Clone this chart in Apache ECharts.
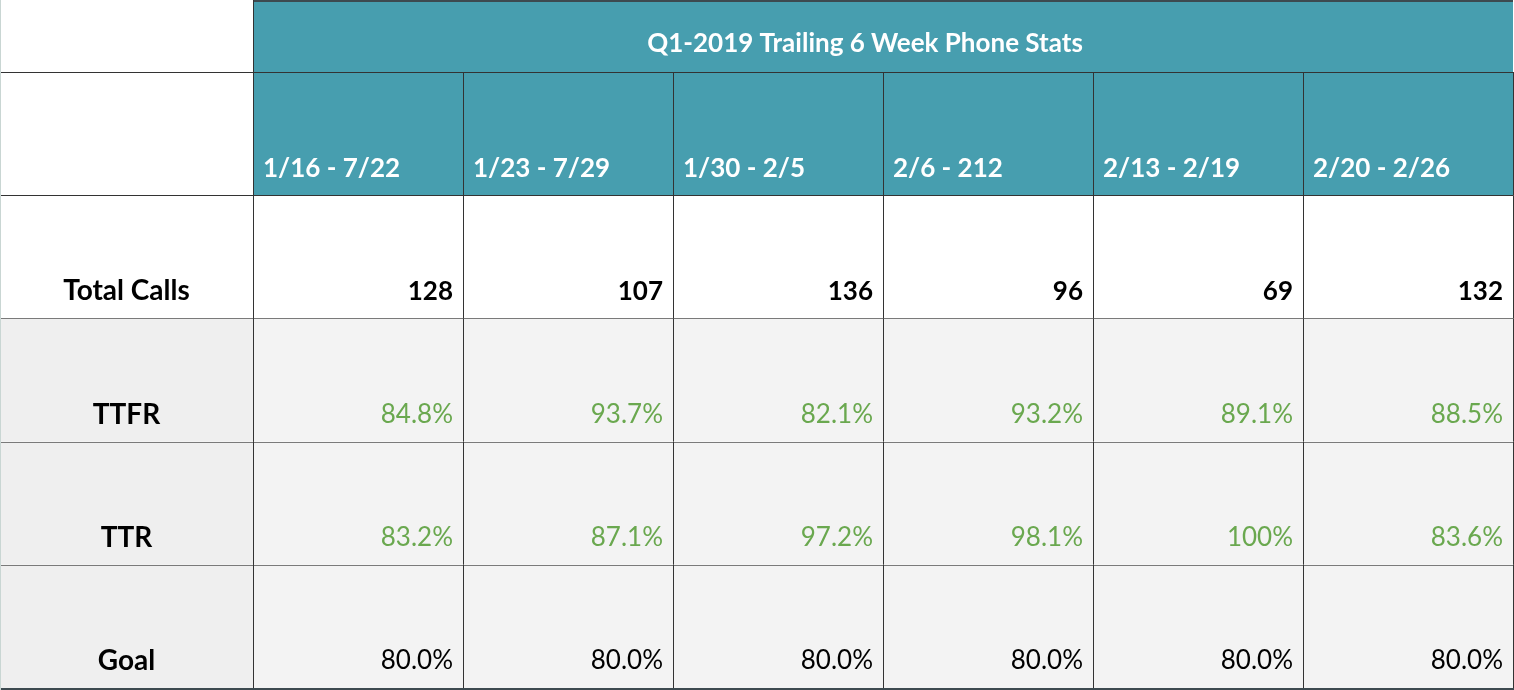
<!DOCTYPE html>
<html>
<head>
<meta charset="utf-8">
<script src="https://cdn.jsdelivr.net/npm/echarts@6/dist/echarts.min.js"></script>
<style>
  html, body { margin: 0; padding: 0; background: #fff; }
  #chart { width: 1514px; height: 690px; }
</style>
</head>
<body>
<div id="chart"></div>
<script>
// table data
const tableTitle = 'Q1-2019 Trailing 6 Week Phone Stats';
const weeks = ['1/16 - 7/22', '1/23 - 7/29', '1/30 - 2/5', '2/6 - 212', '2/13 - 2/19', '2/20 - 2/26'];
const rowNames = ['Total Calls', 'TTFR', 'TTR', 'Goal'];
const totalCalls = [128, 107, 136, 96, 69, 132];
const ttfr = [84.8, 93.7, 82.1, 93.2, 89.1, 88.5];
const ttr = [83.2, 87.1, 97.2, 98.1, 100, 83.6];
const goal = [80, 80, 80, 80, 80, 80];

const TEAL = '#479eaf';
const GREEN = '#6aa84f';
const FONT = 'Lato, "Source Sans Pro", sans-serif';

const pct = v => (v === 100 ? '100%' : v.toFixed(1) + '%');
const rowKeys = ['header'].concat(rowNames);

// cells of the body grid: [col, row, text, kind]
const bodyCells = [];
weeks.forEach((w, i) => bodyCells.push([i, 0, w, 'header']));
totalCalls.forEach((v, i) => bodyCells.push([i, 1, String(v), 'total']));
ttfr.forEach((v, i) => bodyCells.push([i, 2, pct(v), 'green']));
ttr.forEach((v, i) => bodyCells.push([i, 3, pct(v), 'green']));
goal.forEach((v, i) => bodyCells.push([i, 4, pct(v), 'goal']));

const labelCells = [[0, 0, '', 'blankHead']];
rowNames.forEach((n, i) => labelCells.push([0, i + 1, n, 'label']));

const px = v => Math.round(v) + 0.5;

function cellBox(api) {
  const c = api.coord([api.value(0), api.value(1)]);
  const s = api.size([1, 1]);
  return { x: c[0] - s[0] / 2, y: c[1] - s[1] / 2, w: s[0], h: s[1] };
}

function hLine(x1, x2, y, color) {
  return { type: 'line', shape: { x1: x1, y1: px(y), x2: x2, y2: px(y) }, style: { stroke: color, lineWidth: 1 } };
}
function vLine(x, y1, y2, color) {
  return { type: 'line', shape: { x1: px(x), y1: y1, x2: px(x), y2: y2 }, style: { stroke: color, lineWidth: 1 } };
}

function renderCell(params, api) {
  const b = cellBox(api);
  const row = api.value(1);
  const item = params.dataIndex;
  const src = params.seriesIndex === 1 ? bodyCells[item] : labelCells[item];
  const text = src[2], kind = src[3];
  let fill = '#fff', color = '#000', weight = 'bold', size = 26, align = 'right', tx = b.x + b.w - 10;
  if (kind === 'header') { fill = TEAL; color = '#fff'; align = 'left'; tx = b.x + 10; }
  if (kind === 'green') { fill = '#f3f3f3'; color = GREEN; weight = 'normal'; }
  if (kind === 'goal') { fill = '#f3f3f3'; weight = 'normal'; }
  if (kind === 'label') { fill = row >= 2 ? '#efefef' : '#fff'; align = 'center'; tx = b.x + b.w / 2; size = 28; }
  const topColor = row >= 2 ? '#7a7a7a' : '#333';
  return {
    type: 'group',
    children: [
      { type: 'rect', shape: { x: b.x, y: b.y, width: b.w, height: b.h }, style: { fill: fill } },
      hLine(b.x, b.x + b.w, b.y, topColor),
      vLine(b.x, b.y, b.y + b.h, '#333'),
      vLine(b.x + b.w, b.y, b.y + b.h, '#333'),
      {
        type: 'text',
        style: {
          text: text, x: tx, y: b.y + b.h - 27,
          align: align, verticalAlign: 'middle',
          fill: color, font: weight + ' ' + size + 'px ' + FONT
        }
      }
    ]
  };
}

function renderTitle(params, api) {
  const b = cellBox(api);
  return {
    type: 'group',
    children: [
      { type: 'rect', shape: { x: b.x, y: b.y, width: b.w, height: b.h }, style: { fill: TEAL } },
      { type: 'rect', shape: { x: b.x, y: 0, width: b.w, height: 2 }, style: { fill: '#3d4a50' } },
      vLine(b.x, b.y, b.y + b.h, '#333'),
      {
        type: 'text',
        style: {
          text: tableTitle, x: b.x + b.w / 2 - 18, y: 44,
          align: 'center', verticalAlign: 'middle',
          fill: '#fff', font: 'bold 26px ' + FONT
        }
      }
    ]
  };
}

const hidden = { show: false };
const option = {
  animation: false,
  grid: [
    { left: 253, top: 0, width: 1260, height: 72 },
    { left: 253, top: 72, width: 1260, height: 616 },
    { left: 0, top: 72, width: 253, height: 616 }
  ],
  xAxis: [
    { type: 'category', gridIndex: 0, data: ['title'], axisLine: hidden, axisTick: hidden, axisLabel: hidden },
    { type: 'category', gridIndex: 1, data: weeks, axisLine: hidden, axisTick: hidden, axisLabel: hidden },
    { type: 'category', gridIndex: 2, data: ['label'], axisLine: hidden, axisTick: hidden, axisLabel: hidden }
  ],
  yAxis: [
    { type: 'category', gridIndex: 0, data: ['title'], axisLine: hidden, axisTick: hidden, axisLabel: hidden },
    { type: 'category', gridIndex: 1, data: rowKeys, inverse: true, axisLine: hidden, axisTick: hidden, axisLabel: hidden },
    { type: 'category', gridIndex: 2, data: rowKeys, inverse: true, axisLine: hidden, axisTick: hidden, axisLabel: hidden }
  ],
  series: [
    { type: 'custom', xAxisIndex: 0, yAxisIndex: 0, data: [[0, 0]], renderItem: renderTitle, silent: true },
    { type: 'custom', xAxisIndex: 1, yAxisIndex: 1, data: bodyCells.map(c => [c[0], c[1]]), renderItem: renderCell, silent: true },
    { type: 'custom', xAxisIndex: 2, yAxisIndex: 2, data: labelCells.map(c => [c[0], c[1]]), renderItem: renderCell, silent: true }
  ],
  graphic: [
    { type: 'rect', left: 0, bottom: 0, shape: { width: 1514, height: 2 }, style: { fill: '#3d4a50' }, z: 100 },
    { type: 'rect', left: 0, top: 0, shape: { width: 1, height: 690 }, style: { fill: '#c9d6d3' }, z: 100 }
  ]
};

const chart = echarts.init(document.getElementById('chart'));
chart.setOption(option);
window.addEventListener('resize', () => chart.resize());
</script>
</body>
</html>
